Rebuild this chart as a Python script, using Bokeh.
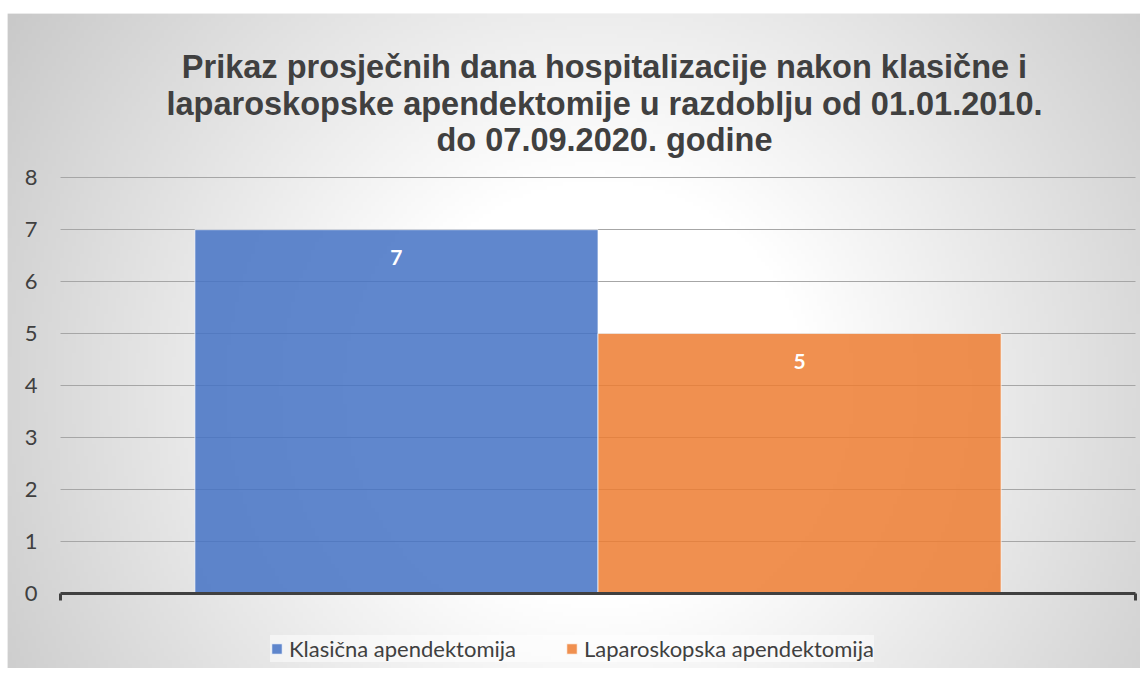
import numpy as np
from bokeh.plotting import figure
from bokeh.models import (ColumnDataSource, Range1d, LinearAxis, FixedTicker,
                          LabelSet, Label)
from bokeh.core.properties import value
from bokeh.embed import file_html
from bokeh.resources import INLINE

# ---- data ----
title_lines = [
    "Prikaz prosječnih dana hospitalizacije nakon klasične i",
    "laparoskopske apendektomije u razdoblju od 01.01.2010.",
    "do 07.09.2020. godine",
]
series_names = ["Klasična apendektomija", "Laparoskopska apendektomija"]
series_values = [7, 5]
series_colors = ["#4472C4", "#ED7D31"]
y_ticks = [0, 1, 2, 3, 4, 5, 6, 7, 8]

# ---- geometry (canvas pixels) ----
W, H = 1140, 668
LEFT, TOP = 7, 13                         # white strip around the chart box
cat_left_px, cat_right_px = 60, 1135      # category span (canvas px)
zero_px, unit_px = 592.5, 51.9            # y=0 position from top, px per unit
px_per_x = cat_right_px - cat_left_px

x_start = -0.5 - (cat_left_px - LEFT) / px_per_x
x_end = 0.5 + (W - cat_right_px) / px_per_x
y_end = (zero_px - TOP) / unit_px
y_start = -(H - zero_px) / unit_px

p = figure(width=W, height=H, x_range=Range1d(x_start, x_end),
           y_range=Range1d(y_start, y_end), x_axis_type=None, y_axis_type=None,
           toolbar_location=None, output_backend="svg", min_border=0,
           min_border_left=LEFT, min_border_top=TOP,
           border_fill_color="white", background_fill_color="#eeeeee",
           outline_line_color=None)

# ---- radial background ----
step = 4
gx = np.arange(0, W - LEFT, step) + LEFT + step / 2
gy = np.arange(0, H - TOP, step) + TOP + step / 2
GX, GY = np.meshgrid(gx, gy)
r = np.hypot(GX - 600, GY - 390)
g = np.clip(255 - 0.11 * np.clip(r - 210, 0, None), 192, 255).astype(np.uint8)
g = g[::-1]
img = np.empty(g.shape, dtype=np.uint32)
view = img.view(dtype=np.uint8).reshape(g.shape + (4,))
view[..., 0] = g
view[..., 1] = g
view[..., 2] = g
view[..., 3] = 255
bg = p.image_rgba(image=[img], x=x_start, y=y_start, dw=x_end - x_start,
                  dh=y_end - y_start)
bg.level = "image"

# ---- y axis, ticks extended as gridlines ----
yax = LinearAxis(fixed_location=-0.5, ticker=FixedTicker(ticks=y_ticks),
                 axis_line_color=None, major_tick_in=px_per_x, major_tick_out=0,
                 major_tick_line_color="#a6a6a6", major_tick_line_width=1,
                 minor_tick_line_color=None, major_label_standoff=23,
                 major_label_text_font="Lato", major_label_text_font_size="22px",
                 major_label_text_color="#404040", bounds=(0, 8))
yax.level = "underlay"
p.add_layout(yax, "left")

# ---- bars ----
n = len(series_names)
bar_w = 0.375
xs = [(i - (n - 1) / 2) * bar_w for i in range(n)]
src = ColumnDataSource(dict(x=xs, top=series_values, names=series_names,
                            color=series_colors,
                            lbl=[str(v) for v in series_values]))
p.vbar(x="x", top="top", bottom=0, width=bar_w, fill_color="color",
       fill_alpha=0.85, line_color="white", line_alpha=0.7, line_width=1,
       source=src, legend_field="names")

labels = LabelSet(x="x", y="top", text="lbl", source=src, y_offset=-28,
                  text_align="center", text_baseline="middle",
                  text_color="white", text_font=value("Lato"),
                  text_font_style="bold", text_font_size="21px")
p.add_layout(labels)

# ---- x axis at y=0 ----
xax = LinearAxis(fixed_location=0, ticker=FixedTicker(ticks=[-0.5, 0.5]),
                 bounds=(-0.5, 0.5), axis_line_color="#404040",
                 axis_line_width=3, major_tick_out=7, major_tick_in=0,
                 major_tick_line_color="#404040", major_tick_line_width=3,
                 minor_tick_line_color=None, major_label_text_color=None)
p.add_layout(xax, "below")

# ---- title ----
base_y = H - 66.7
for i, line in enumerate(title_lines):
    p.add_layout(Label(x=604 - LEFT, y=base_y - i * 36.6, x_units="screen",
                       y_units="screen", text=line, text_align="center",
                       text_baseline="alphabetic", text_font="Liberation Sans",
                       text_font_style="bold", text_font_size="32.5px",
                       text_color="#404040"))

# ---- legend ----
lg = p.legend[0]
lg.orientation = "horizontal"
lg.location = (270 - LEFT, 6)
lg.label_text_font = "Lato"
lg.label_text_font_size = "22px"
lg.label_text_color = "#404040"
lg.glyph_width = 13
lg.glyph_height = 13
lg.label_standoff = 6
lg.spacing = 49
lg.padding = 14
lg.label_height = 24
lg.background_fill_color = "white"
lg.background_fill_alpha = 0.5
lg.border_line_color = None

open("out.html", "w").write(file_html(p, INLINE))
